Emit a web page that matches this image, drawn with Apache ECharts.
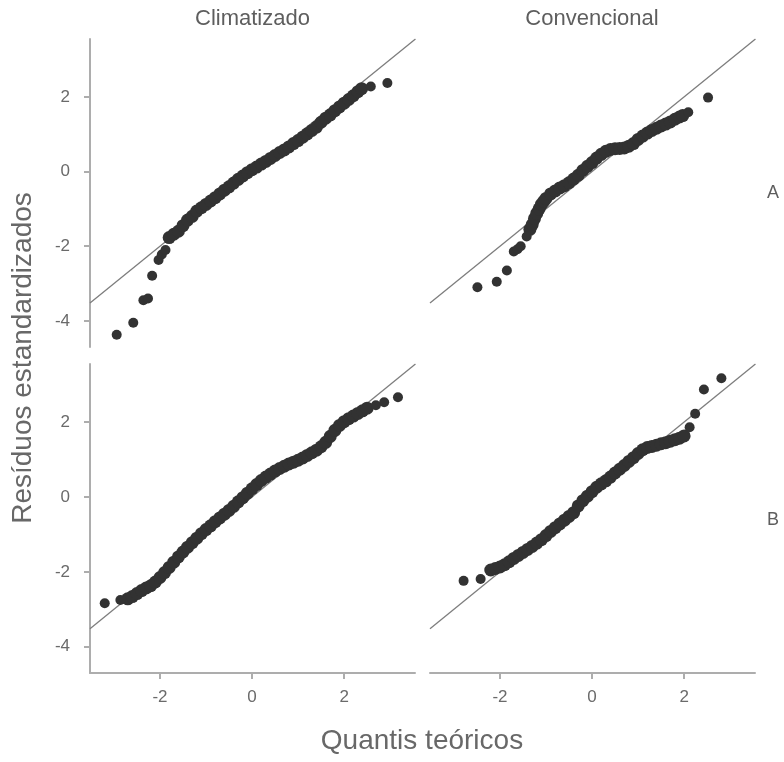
<!DOCTYPE html>
<html>
<head>
<meta charset="utf-8">
<script src="https://cdn.jsdelivr.net/npm/echarts@6/dist/echarts.min.js"></script>
<style>
  html, body { margin: 0; padding: 0; background: #fff; }
  #chart { width: 784px; height: 762px; }
</style>
</head>
<body>
<div id="chart"></div>
<script>
// ---- Data ----
const panelTitles = ['Climatizado', 'Convencional'];
const rowTitles = ['A', 'B'];
const xTicks = [-2, 0, 2];
const yTicks = [-4, -2, 0, 2];
const xRange = [-3.52, 3.54];
const yRange = [-4.7, 3.55];
const axisTitleX = 'Quantis teóricos';
const axisTitleY = 'Resíduos estandardizados';

// Each panel: isolated tail points and the dense central band of points
// [theoretical quantile, standardized residual]

// Panel A - Climatizado
const climA_tail = [
  [-2.94,-4.37],[-2.58,-4.05],[-2.36,-3.45],[-2.26,-3.40],[-2.17,-2.79],[-2.03,-2.37],[-1.96,-2.22],[-1.88,-2.10],
  [2.58,2.28],[2.94,2.37]
];
const climA_band = [
  [-1.80,-1.77],[-1.70,-1.68],[-1.60,-1.60],[-1.50,-1.45],[-1.40,-1.30],[-1.30,-1.20],[-1.20,-1.06],[-1.10,-0.97],
  [-1.00,-0.88],[-0.90,-0.79],[-0.80,-0.70],[-0.70,-0.60],[-0.60,-0.50],[-0.50,-0.41],[-0.40,-0.31],[-0.30,-0.21],
  [-0.20,-0.12],[-0.10,-0.03],[0.00,0.05],[0.10,0.12],[0.20,0.20],[0.30,0.27],[0.40,0.35],[0.50,0.43],
  [0.60,0.51],[0.70,0.58],[0.80,0.66],[0.90,0.75],[1.00,0.83],[1.10,0.92],[1.20,1.01],[1.30,1.10],
  [1.40,1.19],[1.50,1.32],[1.60,1.43],[1.70,1.52],[1.80,1.63],[1.90,1.73],[2.00,1.83],[2.10,1.93],
  [2.20,2.03],[2.30,2.14],[2.38,2.22]
];
// Panel A - Convencional
const convA_tail = [
  [-2.49,-3.10],[-2.07,-2.95],[-1.85,-2.65],[-1.70,-2.14],[-1.62,-2.08],[-1.55,-2.00],[-1.42,-1.74],
  [2.09,1.59],[2.52,1.98]
];
const convA_band = [
  [-1.35,-1.55],[-1.30,-1.42],[-1.25,-1.26],[-1.20,-1.12],[-1.15,-1.00],[-1.10,-0.88],[-1.05,-0.80],
  [-1.00,-0.72],[-0.90,-0.60],[-0.80,-0.52],[-0.70,-0.44],[-0.60,-0.38],[-0.50,-0.30],[-0.40,-0.20],
  [-0.30,-0.10],[-0.20,0.03],[-0.10,0.14],[0.00,0.24],[0.10,0.36],[0.20,0.46],[0.30,0.54],[0.40,0.59],
  [0.50,0.61],[0.60,0.62],[0.70,0.63],[0.80,0.68],[0.90,0.75],[1.00,0.86],[1.10,0.95],[1.20,1.03],
  [1.30,1.10],[1.40,1.16],[1.50,1.22],[1.60,1.27],[1.70,1.33],[1.80,1.40],[1.90,1.46],[1.97,1.50]
];
// Panel B - Climatizado
const climB_tail = [
  [-3.20,-2.84],[-2.86,-2.75],[2.69,2.45],[2.87,2.53],[3.17,2.66]
];
const climB_band = [
  [-2.70,-2.72],[-2.60,-2.66],[-2.50,-2.58],[-2.40,-2.50],[-2.30,-2.43],[-2.20,-2.37],
  [-2.10,-2.27],[-2.00,-2.15],[-1.90,-2.02],[-1.80,-1.88],[-1.70,-1.74],[-1.60,-1.60],[-1.50,-1.47],[-1.40,-1.34],
  [-1.30,-1.22],[-1.20,-1.10],[-1.10,-0.98],[-1.00,-0.87],[-0.90,-0.77],[-0.80,-0.66],[-0.70,-0.56],[-0.60,-0.46],
  [-0.50,-0.36],[-0.40,-0.25],[-0.30,-0.13],[-0.20,-0.02],[-0.10,0.10],[0.00,0.22],[0.10,0.33],[0.20,0.44],
  [0.30,0.53],[0.40,0.61],[0.50,0.69],[0.60,0.76],[0.70,0.82],[0.80,0.88],[0.90,0.93],[1.00,0.98],
  [1.10,1.04],[1.20,1.11],[1.30,1.18],[1.40,1.25],[1.50,1.34],[1.60,1.46],[1.70,1.62],[1.80,1.78],
  [1.90,1.91],[2.00,2.01],[2.10,2.09],[2.20,2.16],[2.30,2.23],[2.40,2.30],[2.50,2.37]
];
// Panel B - Convencional
const convB_tail = [
  [-2.79,-2.24],[-2.42,-2.19],[2.12,1.86],[2.24,2.22],[2.43,2.87],[2.81,3.17]
];
const convB_band = [
  [-2.20,-1.95],[-2.10,-1.91],[-2.00,-1.87],[-1.90,-1.81],[-1.80,-1.73],[-1.70,-1.64],
  [-1.60,-1.56],[-1.50,-1.48],[-1.40,-1.40],[-1.30,-1.32],[-1.20,-1.23],[-1.10,-1.14],[-1.00,-1.03],[-0.90,-0.92],
  [-0.80,-0.82],[-0.70,-0.72],[-0.60,-0.62],[-0.50,-0.52],[-0.40,-0.42],[-0.30,-0.24],[-0.20,-0.10],[-0.10,0.02],
  [0.00,0.14],[0.10,0.26],[0.20,0.35],[0.30,0.43],[0.40,0.53],[0.50,0.64],[0.60,0.74],[0.70,0.84],
  [0.80,0.95],[0.90,1.05],[1.00,1.16],[1.10,1.26],[1.20,1.32],[1.30,1.35],[1.40,1.38],[1.50,1.42],
  [1.60,1.45],[1.70,1.49],[1.80,1.53],[1.90,1.57],[2.00,1.63]
];
// Reference line (y = x) end points
const refLine = [[-3.52,-3.52],[3.55,3.55]];

// ---- Chart ----
const panels = [
  { tail: climA_tail, band: climA_band },
  { tail: convA_tail, band: convA_band },
  { tail: climB_tail, band: climB_band },
  { tail: convB_tail, band: convB_band }
];
const FONT = '"Liberation Sans", Arial, sans-serif';
const axisGray = '#adadad';
const labelGray = '#6a6a6a';
const dotColor = '#323232';

const grids = [
  { left: 90,  top: 39,  width: 325, height: 308 },
  { left: 430, top: 39,  width: 325, height: 308 },
  { left: 90,  top: 364, width: 325, height: 309 },
  { left: 430, top: 364, width: 325, height: 309 }
];

const xAxes = grids.map((g, i) => ({
  type: 'value', gridIndex: i, min: xRange[0], max: xRange[1],
  show: i >= 2,
  axisLine: { show: true, onZero: false, lineStyle: { color: axisGray, width: 2 } },
  axisTick: { show: true, length: 6, customValues: xTicks, lineStyle: { color: axisGray, width: 2 } },
  axisLabel: { customValues: xTicks, color: labelGray, fontSize: 17, fontFamily: FONT, margin: 16 },
  splitLine: { show: false }
}));
const yAxes = grids.map((g, i) => ({
  type: 'value', gridIndex: i, min: yRange[0], max: yRange[1],
  show: i % 2 === 0,
  axisLine: { show: true, onZero: false, lineStyle: { color: axisGray, width: 2 } },
  axisTick: { show: true, length: 6, customValues: yTicks, lineStyle: { color: axisGray, width: 2 } },
  axisLabel: { customValues: yTicks, color: labelGray, fontSize: 17, fontFamily: FONT, margin: 20 },
  splitLine: { show: false }
}));

const series = [];
panels.forEach((p, i) => {
  series.push({
    type: 'line', xAxisIndex: i, yAxisIndex: i, data: refLine,
    showSymbol: false, clip: true, silent: true, z: 1,
    lineStyle: { color: '#7d7d7d', width: 1.3 }
  });
  series.push({
    type: 'scatter', xAxisIndex: i, yAxisIndex: i, data: p.band,
    symbol: 'circle', symbolSize: 13, z: 2, silent: true,
    itemStyle: { color: dotColor, opacity: 1 }
  });
  series.push({
    type: 'scatter', xAxisIndex: i, yAxisIndex: i, data: p.tail,
    symbol: 'circle', symbolSize: 10, z: 2, silent: true,
    itemStyle: { color: dotColor, opacity: 1 }
  });
});

const textStyleBase = (t, size, color) => ({
  text: t, fontSize: size, fontFamily: FONT, fill: color,
  align: 'center', verticalAlign: 'middle', textAlign: 'center', textVerticalAlign: 'middle'
});

const graphic = [
  { type: 'text', x: 252.5, y: 19, style: textStyleBase(panelTitles[0], 22, '#5e5e5e') },
  { type: 'text', x: 592,   y: 19, style: textStyleBase(panelTitles[1], 22, '#5e5e5e') },
  { type: 'text', x: 773,   y: 193, style: textStyleBase(rowTitles[0], 18, '#5e5e5e') },
  { type: 'text', x: 773,   y: 520, style: textStyleBase(rowTitles[1], 18, '#5e5e5e') },
  { type: 'text', x: 23,    y: 358, rotation: Math.PI / 2, style: textStyleBase(axisTitleY, 28, '#686868') },
  { type: 'text', x: 422,   y: 741, style: textStyleBase(axisTitleX, 28, '#686868') }
];

const chart = echarts.init(document.getElementById('chart'), null, { renderer: 'canvas' });
chart.setOption({
  animation: false,
  backgroundColor: '#ffffff',
  grid: grids,
  xAxis: xAxes,
  yAxis: yAxes,
  series: series,
  graphic: graphic
});
</script>
</body>
</html>
